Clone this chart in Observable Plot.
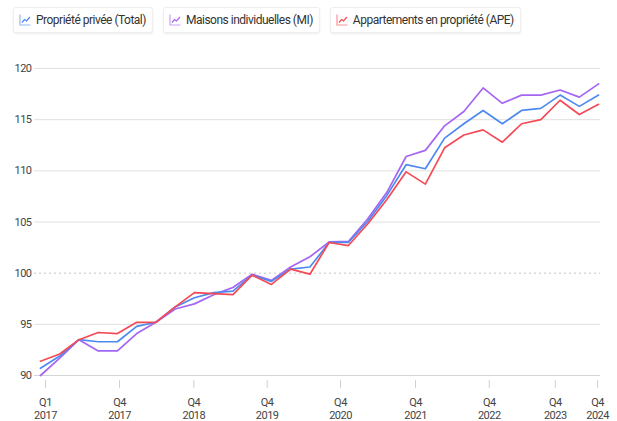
<!DOCTYPE html>
<html><head><meta charset="utf-8">
<script src="https://cdn.jsdelivr.net/npm/d3@7"></script>
<script src="https://cdn.jsdelivr.net/npm/@observablehq/plot@0.6"></script>
<style>
body{margin:0;background:#fff;font-family:Roboto,sans-serif;}
#legend{height:40px;display:flex;gap:10px;padding:7px 0 0 13px;box-sizing:border-box;}
.item{display:flex;align-items:center;height:26px;box-sizing:border-box;padding:0 6px 0 5px;border:1px solid #efefef;border-radius:3px;box-shadow:0 1px 2px rgba(0,0,0,.08);font-size:12px;letter-spacing:-0.5px;color:#333;background:#fff;}
.item svg{margin-right:5px;}
#chart svg{display:block;font-family:Roboto,sans-serif;}
#chart svg text{letter-spacing:-0.5px;}
</style>
</head><body>
<div id="legend"></div>
<div id="chart"></div>
<script>
const seriesNames = ["Propriété privée (Total)", "Maisons individuelles (MI)", "Appartements en propriété (APE)"];
const seriesColors = ["#4d8af0", "#a466f3", "#f54a55"];
const total = [90.7, 91.9, 93.5, 93.3, 93.3, 94.8, 95.2, 96.7, 97.6, 98.1, 98.25, 99.8, 99.2, 100.4, 100.6, 103.0, 103.0, 105.05, 107.6, 110.6, 110.2, 113.2, 114.6, 115.9, 114.6, 115.9, 116.1, 117.4, 116.3, 117.4];
const mi = [90.0, 91.7, 93.5, 92.4, 92.4, 94.1, 95.2, 96.5, 97.0, 97.9, 98.6, 99.9, 99.3, 100.6, 101.6, 103.05, 103.1, 105.3, 107.9, 111.4, 112.0, 114.4, 115.8, 118.1, 116.6, 117.4, 117.4, 117.9, 117.2, 118.5];
const ape = [91.4, 92.1, 93.5, 94.2, 94.1, 95.2, 95.2, 96.7, 98.1, 98.0, 97.9, 99.8, 98.9, 100.4, 99.9, 103.0, 102.7, 104.8, 107.2, 109.9, 108.7, 112.25, 113.5, 114.0, 112.8, 114.6, 115.0, 116.9, 115.5, 116.5];
const yTicks = [90, 95, 100, 105, 110, 115, 120];
const xTickPos = [0.26, 4.11, 7.97, 11.78, 15.59, 19.49, 23.32, 26.75, 28.95];
const xTickLabels = ["Q1\n2017", "Q4\n2017", "Q4\n2018", "Q4\n2019", "Q4\n2020", "Q4\n2021", "Q4\n2022", "Q4\n2023", "Q4\n2024"];

// legend
const legend = document.getElementById("legend");
seriesNames.forEach((n, k) => {
  const c = seriesColors[k];
  const el = document.createElement("div");
  el.className = "item";
  el.innerHTML = `<svg width="12" height="12" viewBox="0 0 12 12"><path d="M1 0.5V11H11.5" fill="none" stroke="${c}" stroke-opacity="0.6" stroke-width="1.2"/><path d="M3 8.5L5.5 5.5L7.5 7L11 3" fill="none" stroke="${c}" stroke-width="1.2"/></svg><span>${n}</span>`;
  legend.appendChild(el);
});

const valuesBySeries = [total, mi, ape];
const order = [1, 0, 2];
const rows = order.flatMap(k => valuesBySeries[k].map((v, i) => ({i, v, s: seriesNames[k]})));
const xTicksData = xTickPos.map((p, i) => ({p, label: xTickLabels[i]}));

const chart = Plot.plot({
  width: 617, height: 381,
  marginLeft: 34, marginRight: 17, marginTop: 28, marginBottom: 46,
  x: {domain: [-0.31, 29.1], axis: null},
  y: {domain: [90, 120], axis: null},
  color: {domain: seriesNames, range: seriesColors},
  marks: [
    Plot.ruleY(yTicks.filter(d => d !== 100 && d !== 90), {y: d => d, stroke: "#e0e0e0"}),
    Plot.ruleY([100], {y: d => d, stroke: "#c4c4c4", strokeDasharray: "2,3"}),
    Plot.ruleY([90], {y: d => d, stroke: "#d4d4d4"}),
    Plot.text(yTicks, {y: d => d, frameAnchor: "left", dx: -3, textAnchor: "end", text: d => String(d), fill: "#444", fontSize: 11}),
    Plot.ruleX(xTicksData, {x: "p", y1: 89.51, y2: 88.73, stroke: "#cfcfcf"}),
    Plot.text(xTicksData, {x: "p", y: 90, dy: 33, text: "label", lineHeight: 1.15, fill: "#444", fontSize: 11}),
    Plot.line(rows, {x: "i", y: "v", z: "s", stroke: "s", strokeWidth: 1.7})
  ]
});
document.getElementById("chart").appendChild(chart);
</script>
</body></html>
